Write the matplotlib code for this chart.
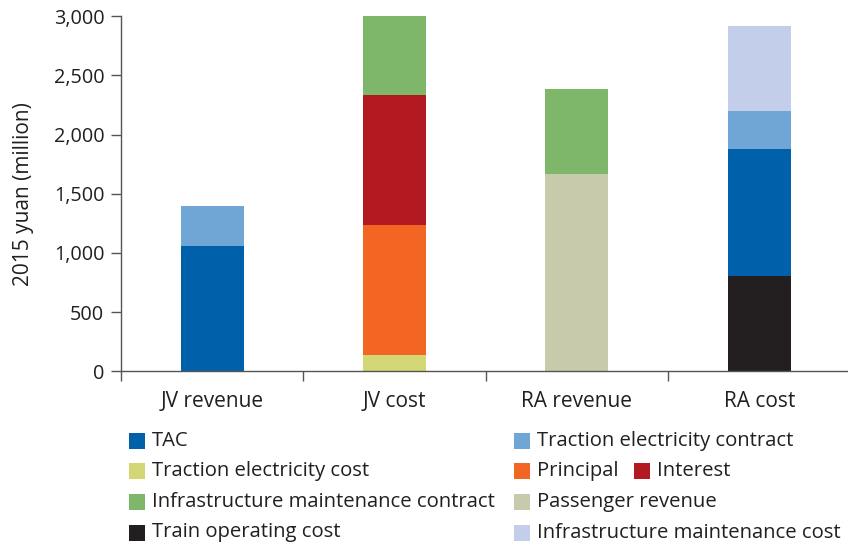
import matplotlib
matplotlib.use("Agg")
import matplotlib.pyplot as plt
from matplotlib.patches import Rectangle
import numpy as np

plt.rcParams['font.family'] = ['Open Sans', 'DejaVu Sans']

categories = ["JV revenue", "JV cost", "RA revenue", "RA cost"]

# stacking order bottom -> top
series_names = [
    "Train operating cost",
    "TAC",
    "Traction electricity cost",
    "Traction electricity contract",
    "Principal",
    "Interest",
    "Passenger revenue",
    "Infrastructure maintenance contract",
    "Infrastructure maintenance cost",
]
train_operating_cost = [0, 0, 0, 805]
tac = [1060, 0, 0, 1074]
traction_electricity_cost = [0, 138, 0, 0]
traction_electricity_contract = [340, 0, 0, 321]
principal = [0, 1098, 0, 0]
interest = [0, 1100, 0, 0]
passenger_revenue = [0, 0, 1667, 0]
infra_maintenance_contract = [0, 667, 718, 0]
infra_maintenance_cost = [0, 0, 0, 718]

series_values = [
    train_operating_cost, tac, traction_electricity_cost,
    traction_electricity_contract, principal, interest,
    passenger_revenue, infra_maintenance_contract, infra_maintenance_cost,
]
series_colors = {
    "TAC": "#0060A9",
    "Traction electricity contract": "#70A6D6",
    "Traction electricity cost": "#D3D775",
    "Principal": "#F26522",
    "Interest": "#B31921",
    "Infrastructure maintenance contract": "#7EB769",
    "Passenger revenue": "#C8CBAB",
    "Train operating cost": "#231F20",
    "Infrastructure maintenance cost": "#C3CFEA",
}
yticks = [0, 500, 1000, 1500, 2000, 2500, 3000]

TEXT = "#231F20"
AX = "#555555"

fig = plt.figure(figsize=(8.48, 5.46), dpi=100)
W, H = 848, 546
ax = fig.add_axes([121 / W, 1 - 371.3 / H, 729.5 / W, 355 / H])

x = np.arange(len(categories))
bottom = np.zeros(len(categories))
for name, vals in zip(series_names, series_values):
    v = np.array(vals, dtype=float)
    ax.bar(x, v, width=0.345, bottom=bottom, color=series_colors[name],
           linewidth=0)
    bottom += v

ax.set_xlim(-0.5, 3.5)
ax.set_ylim(0, 3000)
ax.set_yticks(yticks)
ax.set_yticklabels([f"{t:,}" for t in yticks], fontsize=14.3, color=TEXT)
ax.set_xticks(x)
ax.set_xticklabels(categories, fontsize=15, color=TEXT)
ax.tick_params(axis='x', which='major', length=0, pad=14)
ax.set_xticks(np.arange(-0.5, 3.0, 1.0), minor=True)
ax.tick_params(axis='x', which='minor', length=7, color=AX, width=1)
ax.tick_params(axis='y', length=7, color=AX, width=1, pad=5)
for s in ['top', 'right']:
    ax.spines[s].set_visible(False)
for s in ['left', 'bottom']:
    ax.spines[s].set_color(AX)
    ax.spines[s].set_linewidth(1)
ax.set_ylabel("2015 yuan (million)", fontsize=15, color=TEXT, labelpad=14)

# legend (manual layout to match the reference)
legend_layout = [
    ("TAC", 129, 441),
    ("Traction electricity contract", 514, 441),
    ("Traction electricity cost", 129, 471),
    ("Principal", 514, 471),
    ("Interest", 634, 471),
    ("Infrastructure maintenance contract", 129, 502),
    ("Passenger revenue", 514, 502),
    ("Train operating cost", 129, 532.5),
    ("Infrastructure maintenance cost", 514, 532.5),
]
for name, px, py in legend_layout:
    fig.patches.append(Rectangle((px / W, 1 - (py + 8) / H), 16 / W, 16 / H,
                                 transform=fig.transFigure,
                                 facecolor=series_colors[name], edgecolor='none'))
    fig.text((px + 23) / W, 1 - py / H, name, fontsize=14.6, color=TEXT,
             va='center', ha='left')

fig.savefig("out.png", dpi=100)
